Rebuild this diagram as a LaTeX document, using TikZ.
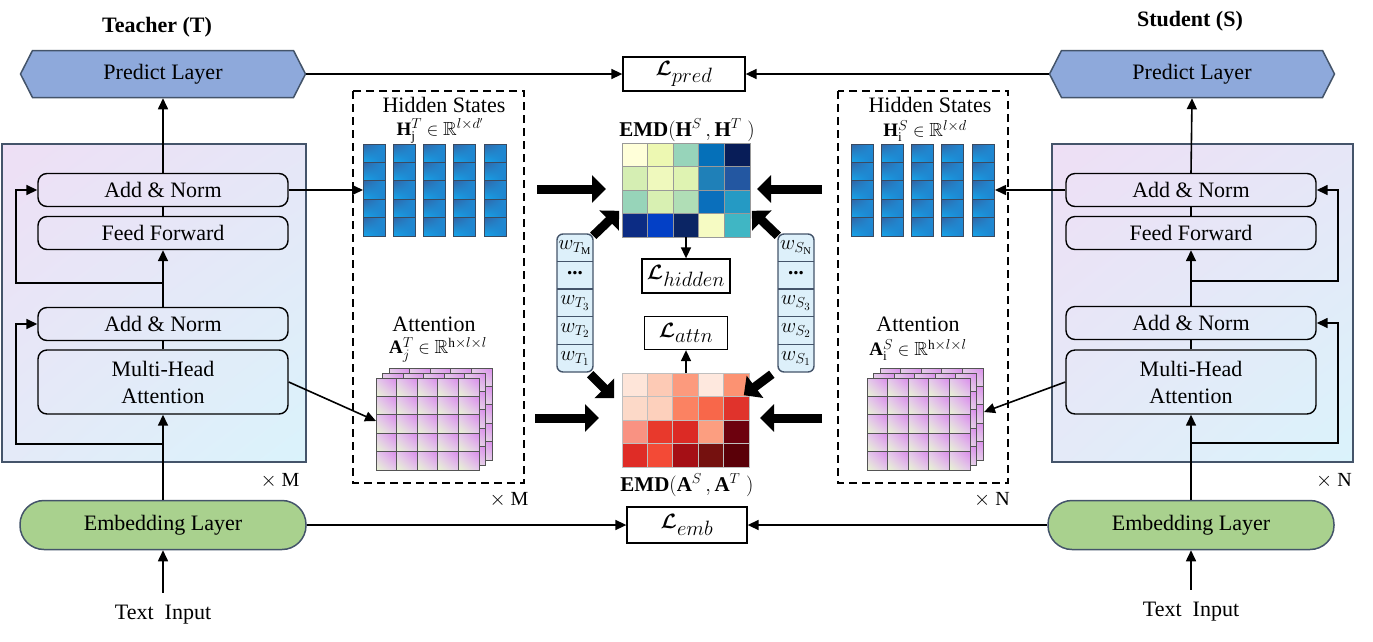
\documentclass[tikz,border=0pt]{standalone}
\usepackage{amsmath,amssymb}
\usepackage{fontspec}
\setmainfont{Liberation Serif}
\usetikzlibrary{arrows.meta,shapes.symbols,shadings,positioning}

\definecolor{edge}{HTML}{44546A}
\definecolor{predblue}{HTML}{8EA9DB}
\definecolor{embgreen}{HTML}{A9D18E}
\definecolor{wfill}{HTML}{DDF0FA}
\definecolor{boxUL}{HTML}{EEDFF5}
\definecolor{boxUR}{HTML}{E6E6F7}
\definecolor{boxLL}{HTML}{E4EAF8}
\definecolor{boxLR}{HTML}{DAF3FB}
\definecolor{hidUL}{HTML}{3264A5}
\definecolor{hidUR}{HTML}{1E8CD7}
\definecolor{hidLL}{HTML}{14A8EE}
\definecolor{hidLR}{HTML}{1E82CD}
\definecolor{hidline}{HTML}{3A4A60}
\definecolor{attLL}{HTML}{E8F5D2}
\definecolor{attUR}{HTML}{DA8CEB}
\definecolor{attMID}{HTML}{E4C8EC}

\tikzset{
  lbl/.style={font=\fontsize{22}{26}\selectfont},
  small/.style={font=\fontsize{19}{22}\selectfont, inner sep=0pt},
  blk/.style={draw, rounded corners=9pt, line width=1.4pt, minimum width=250pt, minimum height=33pt, inner sep=0pt, lbl},
  conn/.style={line width=1.6pt, -{Triangle[length=11pt,width=10pt]}},
  bigarr/.style={line width=9pt, -{Triangle[length=14pt,width=27pt]}},
  lossbox/.style={draw, line width=1.3pt, inner sep=0pt, font=\fontsize{20}{24}\selectfont},
  pred/.style={shape=signal, signal to=east and west, signal pointer angle=126, draw=edge, fill=predblue, line width=1.5pt, minimum width=285pt, minimum height=47pt, lbl},
  emb/.style={draw=edge, fill=embgreen, rounded corners=24pt, line width=1.5pt, minimum width=286pt, minimum height=49pt, lbl},
  layerbox/.style={draw=edge, line width=1.5pt, upper left=boxUL, upper right=boxUR, lower left=boxLL, lower right=boxLR},
  hidcell/.style={draw=hidline, line width=1pt, upper left=hidUL, upper right=hidUR, lower left=hidLL, lower right=hidLR},
  attcell/.style={draw=black!67, line width=1pt, lower left=attLL, upper right=attUR, upper left=attMID, lower right=attMID},
  wcell/.style={minimum width=36pt, minimum height=27.6pt, inner sep=0pt, font=\fontsize{21}{24}\selectfont},
  dashbox/.style={line width=1.6pt, dash pattern=on 8pt off 5pt}
}

\begin{document}
\begin{tikzpicture}[x=1pt, y=-1pt]
  \useasboundingbox (0,0) rectangle (1373,641);

  % teacher
  \node[lbl, font=\fontsize{22}{26}\selectfont\bfseries] (tTitle) at (157,27) {Teacher (T)};
  \node[pred] (tPred) at (163,74) {Predict Layer};
  \shadedraw[layerbox] (2,144) rectangle (306,462);
  \node[blk] (tAN1) at (163,190) {Add \& Norm};
  \node[blk] (tFF) at (163,233) {Feed Forward};
  \node[blk] (tAN2) at (163,324) {Add \& Norm};
  \node[blk, minimum height=64pt, align=center, font=\fontsize{22}{27}\selectfont] (tMHA) at (163,382) {Multi-Head\\Attention};
  \node[emb] (tEmb) at (163,525) {Embedding Layer};
  \node[lbl] (tIn) at (163,615) {Text~~Input};
  \node[lbl, font=\fontsize{20}{24}\selectfont] (tM1) at (280,481) {$\times$ M};

  \draw[conn] (tIn.north) ++(0,-9) -- (tEmb.south);
  \draw[conn] (tEmb.north) -- (tMHA.south);
  \draw[line width=1.6pt] (tMHA) -- (tAN2);
  \draw[conn] (tAN2.north) -- (tFF.south);
  \draw[line width=1.6pt] (tFF) -- (tAN1);
  \draw[conn] (tAN1.north) -- (tPred.south);
  \coordinate (tR1) at (163,444);
  \coordinate (tR2) at (163,283);
  \draw[conn] (tR1) -- (16,444) |- (tAN2.west);
  \draw[conn] (tR2) -- (16,283) |- (tAN1.west);

  % student
  \node[lbl, font=\fontsize{22}{26}\selectfont\bfseries] (sTitle) at (1190,21) {Student (S)};
  \node[pred] (sPred) at (1192,74) {Predict Layer};
  \shadedraw[layerbox] (1052,144) rectangle (1353,462);
  \node[blk] (sAN1) at (1191,190) {Add \& Norm};
  \node[blk] (sFF) at (1191,233) {Feed Forward};
  \node[blk] (sAN2) at (1191,323) {Add \& Norm};
  \node[blk, minimum height=64pt, align=center, font=\fontsize{22}{27}\selectfont] (sMHA) at (1191,382) {Multi-Head\\Attention};
  \node[emb] (sEmb) at (1191,525) {Embedding Layer};
  \node[lbl] (sIn) at (1191,612) {Text~~Input};
  \node[lbl, font=\fontsize{20}{24}\selectfont] (sN1) at (1334,481) {$\times$ N};

  \draw[conn] (sIn.north) ++(0,-9) -- (sEmb.south);
  \draw[conn] (sEmb.north) -- (sMHA.south);
  \draw[line width=1.6pt] (sMHA) -- (sAN2);
  \draw[conn] (sAN2.north) -- (sFF.south);
  \draw[line width=1.6pt] (sFF) -- (sAN1);
  \draw[conn] (sAN1.north) -- (sPred.south);
  \coordinate (sR1) at (1191,443);
  \coordinate (sR2) at (1191,281);
  \draw[conn] (sR1) -- (1338,443) |- (sAN2.east);
  \draw[conn] (sR2) -- (1338,281) |- (sAN1.east);

  % hidden states and attention maps
  \draw[dashbox] (353,91) rectangle (524,483);
  \draw[dashbox] (838,91) rectangle (1008,483);
  \node[lbl, inner sep=0pt] (tHid) at (444,105) {Hidden States};
  \node[small] (tHidM) at (440,131) {$\mathbf{H}_{\mathrm{j}}^{T}\in\mathbb{R}^{l\times d'}$};
  \node[lbl, inner sep=0pt] (tAtt) at (434,324) {Attention};
  \node[small] (tAttM) at (438,350) {$\mathbf{A}_{j}^{T}\in\mathbb{R}^{\mathrm{h}\times l\times l}$};
  \node[lbl, inner sep=0pt] (sHid) at (930,105) {Hidden States};
  \node[small] (sHidM) at (925,131) {$\mathbf{H}_{\mathrm{i}}^{S}\in\mathbb{R}^{l\times d}$};
  \node[lbl, inner sep=0pt] (sAtt) at (918,324) {Attention};
  \node[small] (sAttM) at (918,350) {$\mathbf{A}_{\mathrm{i}}^{S}\in\mathbb{R}^{\mathrm{h}\times l\times l}$};
  \node[lbl, font=\fontsize{20}{24}\selectfont] (tM2) at (509,500) {$\times$ M};
  \node[lbl, font=\fontsize{20}{24}\selectfont] (sN2) at (992,500) {$\times$ N};

  \foreach \i in {0,...,4}
    \foreach \j in {0,...,4} {
      \shadedraw[hidcell] (363+30.3*\i, 144+18.4*\j) rectangle ++(22,18.4);
      \shadedraw[hidcell] (851+30.3*\i, 144+18.4*\j) rectangle ++(22,18.4);
    }
  \foreach \o in {2,1,0}
    \foreach \i in {0,...,4}
      \foreach \j in {0,...,4} {
        \shadedraw[attcell] (376+6.5*\o+20.6*\i, 378-5*\o+18.4*\j) rectangle ++(20.6,18.4);
        \shadedraw[attcell] (867+6.5*\o+20.6*\i, 378-5*\o+18.4*\j) rectangle ++(20.6,18.4);
      }
  \coordinate (tHS) at (363,190);
  \coordinate (sHS) at (995,190);
  \coordinate (tAS) at (376,421);
  \coordinate (sAS) at (984,412);
  \draw[conn] (tAN1.east) -- (tHS);
  \draw[conn] (sAN1.west) -- (sHS);
  \draw[conn] (tMHA.east) -- (tAS);
  \draw[conn] (sMHA.west) -- (sAS);

  % EMD matrices
  \node[lbl, font=\fontsize{21}{25}\selectfont] (hEMD) at (687,130) {$\mathbf{EMD}(\mathbf{H}^{S}\,,\mathbf{H}^{T}\;)$};
  \foreach \c [count=\k from 0] in {FFFFD9,EDF8B2,97D4BA,0570B9,081D58,D5EEB3,EFF9BD,DFF3B2,1F80B8,2357A1,97D4B9,D8F0B2,B0DEB6,0A6FBC,259AC4,0C2C84,0340C6,0B2564,F6FBC3,40B6C4} {
    \definecolor{cc}{HTML}{\c}
    \pgfmathtruncatemacro{\col}{mod(\k,5)}
    \pgfmathtruncatemacro{\row}{\k/5}
    \filldraw[fill=cc, draw=gray!80, line width=1pt] (622+25.6*\col, 143+23.5*\row) rectangle ++(25.6,23.5);
  }
  \node[lbl, font=\fontsize{21}{25}\selectfont] (aEMD) at (687,485) {$\mathbf{EMD}(\mathbf{A}^{S}\,,\mathbf{A}^{T}\;)$};
  \foreach \c [count=\k from 0] in {FEE5D9,FDCAB5,FC9A7D,FEE8DE,FC9272,FCD9C8,FDD0BC,FB8262,F8674A,E0332C,F99282,E8392C,DC2A25,FC9E80,6D010E,DF2C26,F34A36,A50F15,75110F,5A0008} {
    \definecolor{cc}{HTML}{\c}
    \pgfmathtruncatemacro{\col}{mod(\k,5)}
    \pgfmathtruncatemacro{\row}{\k/5}
    \filldraw[fill=cc, draw=gray!50, line width=1pt] (622+25.4*\col, 373+23.5*\row) rectangle ++(25.4,23.5);
  }
  \coordinate (hMat) at (686,237);
  \coordinate (aMat) at (686,373);

  % losses
  \node[lossbox, minimum width=122pt, minimum height=34pt] (Lpred) at (684,74) {$\boldsymbol{\mathcal{L}}_{\textstyle pred}$};
  \node[lossbox, minimum width=88pt, minimum height=34pt] (Lhid) at (686,276) {$\boldsymbol{\mathcal{L}}_{\textstyle hidden}$};
  \node[lossbox, minimum width=83pt, minimum height=33pt] (Lattn) at (686,333) {$\boldsymbol{\mathcal{L}}_{\textstyle attn}$};
  \node[lossbox, minimum width=120pt, minimum height=36pt] (Lemb) at (687,525) {$\boldsymbol{\mathcal{L}}_{\textstyle emb}$};
  \draw[conn] (hMat) -- (Lhid.north);
  \draw[conn] (aMat) -- (Lattn.south);
  \draw[conn] (tPred.east) -- (Lpred.west);
  \draw[conn] (sPred.west) -- (Lpred.east);
  \draw[conn] (tEmb.east) -- (Lemb.west);
  \draw[conn] (sEmb.west) -- (Lemb.east);

  % layer weights
  \filldraw[fill=wfill, draw=edge, line width=1.4pt, rounded corners=6pt] (557,234) rectangle (593,372);
  \filldraw[fill=wfill, draw=edge, line width=1.4pt, rounded corners=6pt] (778,234) rectangle (814,372);
  \foreach \t [count=\k from 0] in {$w_{T_{\mathrm{M}}}$,\raisebox{4pt}{\textbf{...}},$w_{T_3}$,$w_{T_2}$,$w_{T_1}$}
    \node[wcell] (wT\k) at (575,247.8+27.6*\k) {\t};
  \foreach \t [count=\k from 0] in {$w_{S_{\mathrm{N}}}$,\raisebox{4pt}{\textbf{...}},$w_{S_3}$,$w_{S_2}$,$w_{S_1}$}
    \node[wcell] (wS\k) at (796,247.8+27.6*\k) {\t};
  \foreach \k in {1,...,4} {
    \draw[edge, line width=1.2pt] (wT\k.north west) -- (wT\k.north east);
    \draw[edge, line width=1.2pt] (wS\k.north west) -- (wS\k.north east);
  }

  % thick arrows
  \draw[bigarr] (537,189) -- (606,189);
  \draw[bigarr] (822,189) -- (757,189);
  \draw[bigarr] (535,418) -- (599,418);
  \draw[bigarr] (822,418) -- (760,418);
  \draw[bigarr] ([shift={(0,2)}]wT0.north east) -- ++(26,-25);
  \draw[bigarr] ([shift={(0,2)}]wS0.north west) -- ++(-26,-25);
  \draw[bigarr] ([shift={(-3,2)}]wT4.south east) -- ++(24,24);
  \draw[bigarr] ([shift={(-6,2)}]wS4.south west) -- ++(-28,21);
\end{tikzpicture}
\end{document}
